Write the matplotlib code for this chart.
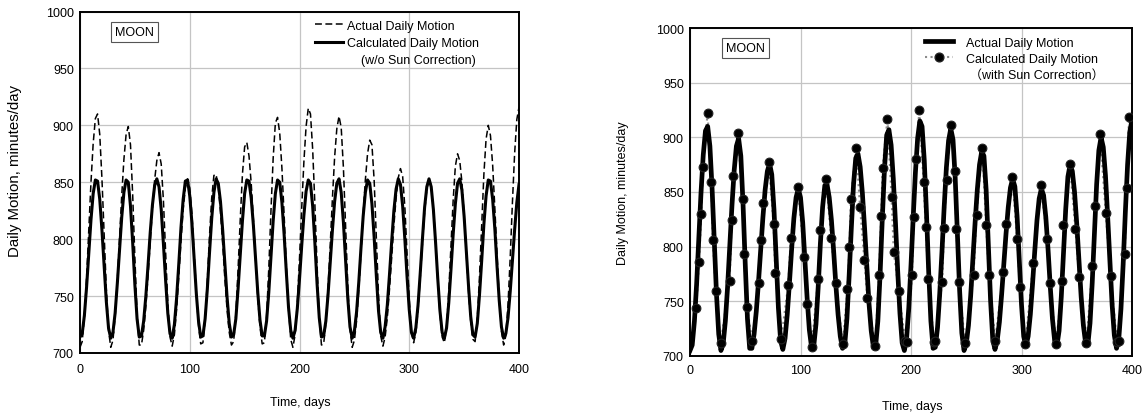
"""
Moon daily motion: actual vs calculated (without / with Sun correction)
"""

import numpy as np
import matplotlib; matplotlib.use("Agg")
import matplotlib.pyplot as plt
from matplotlib.lines import Line2D

plt.rcParams["font.family"] = ["Liberation Sans", "Noto Sans CJK JP", "DejaVu Sans"]

# time grid (days) for the two continuous curves
DAYS = np.arange(0, 401, 2)

# actual daily motion, minutes/day (read every 2 days)
ACTUAL = [
    705, 710, 732, 766, 808, 850, 884, 906,
    910, 892, 853, 804, 756, 720, 705,
    711, 732, 763, 800, 838, 870, 892, 899,
    883, 839, 784, 734, 707,
    707, 720, 741, 768, 798, 827, 852, 869, 876,
    866, 834, 789, 744, 714,
    706, 716, 738, 767, 798, 826, 845, 853,
    845, 822, 788, 753, 724, 708,
    709, 729, 763, 803, 836, 856,
    857, 845, 824, 796, 765, 738, 718, 707,
    710, 734, 773, 817, 857, 881,
    885, 873, 849, 817, 782, 748, 723, 708,
    709, 732, 774, 825, 871, 902,
    907, 893, 862, 821, 777, 739, 712,
    705, 716, 744, 783, 827, 868, 899, 915,
    910, 879, 831, 777, 732, 707,
    708, 726, 757, 795, 836, 872, 897, 908,
    898, 863, 812, 760, 721, 705,
    711, 728, 755, 788, 822, 852, 875, 887,
    883, 852, 802, 751, 715,
    706, 714, 731, 756, 784, 812, 836, 854, 862,
    855, 828, 788, 747, 718,
    709, 718, 738, 766, 796, 824, 844, 853,
    847, 827, 798, 764, 734, 714,
    709, 723, 754, 794, 834, 864, 875,
    869, 850, 821, 787, 754, 728, 712,
    710, 730, 767, 813, 857, 888, 900,
    891, 865, 827, 786, 747, 719, 707,
    715, 743, 784, 832, 875, 905, 916,
]

# calculated daily motion without Sun correction
CALC_NO_SUN = [
    714, 717, 733, 758, 788, 817, 840, 852,
    851, 835, 808, 776, 745, 722, 713,
    718, 735, 761, 790, 819, 841, 852,
    850, 829, 797, 760, 730, 714,
    715, 728, 750, 777, 806, 830, 847, 853,
    846, 826, 796, 764, 735, 717,
    713, 725, 748, 778, 810, 835, 851,
    852, 838, 814, 783, 752, 728, 714,
    715, 730, 756, 788, 818, 841, 853,
    849, 833, 808, 778, 749, 726, 714,
    716, 730, 756, 786, 816, 840, 852,
    851, 836, 812, 782, 753, 729, 715,
    715, 728, 753, 785, 816, 840, 852,
    850, 832, 804, 771, 740, 720,
    713, 720, 739, 765, 794, 821, 842, 852,
    849, 829, 797, 761, 731, 714,
    715, 728, 751, 779, 808, 833, 849,
    853, 841, 815, 781, 748, 723, 713,
    719, 736, 762, 792, 820, 841, 852,
    849, 831, 802, 768, 737, 718,
    713, 723, 742, 769, 798, 825, 844, 853,
    848, 829, 800, 767, 738, 718,
    713, 722, 742, 770, 800, 828, 846,
    853, 846, 826, 797, 765, 737, 718,
    713, 722, 744, 773, 804, 831, 849,
    853, 843, 820, 790, 759, 732, 716,
    714, 726, 751, 781, 813, 838, 852,
    851, 835, 809, 776, 746, 723, 713,
    717, 731, 754, 781, 808, 832, 848,
]

# calculated daily motion with Sun correction (marker points)
SUN_T = [
    5.7, 8.1, 10.3, 11.6, 15.9, 19.3, 20.6, 23.4, 27.8,
    35.9, 37.7, 39.2, 43.1, 47.6, 48.8, 51.5, 56.3,
    62.3, 64.1, 66.5, 71.3, 75.6, 77.2, 82.6,
    88.9, 91.2, 97.6, 103.3, 106.0, 110.0,
    115.9, 118.0, 123.0, 127.8, 131.7, 138.3,
    142.5, 144.3, 145.6, 150.3, 153.9, 157.8, 160.5, 167.7,
    171.0, 173.0, 174.3, 178.7, 182.4, 184.4, 189.0, 194.6, 196.7,
    200.9, 202.4, 204.8, 207.5, 211.4, 213.3, 215.7, 220.8, 222.0,
    228.3, 229.8, 232.2, 235.8, 239.5, 241.0, 243.4, 248.8,
    256.6, 259.3, 264.5, 268.0, 270.5, 276.2,
    283.7, 285.8, 291.6, 296.1, 298.5, 303.6,
    310.5, 317.2, 323.5, 325.9, 331.3,
    337.1, 338.0, 343.7, 348.8, 352.1, 358.7,
    364.2, 366.9, 371.1, 376.2, 380.7, 386.4, 388.2,
    393.4, 395.2, 397.3,
]
SUN_V = [
    744, 786, 830, 873, 922, 859, 806, 759, 712,
    769, 824, 865, 904, 844, 793, 745, 714,
    767, 806, 840, 877, 821, 776, 716,
    765, 808, 855, 791, 748, 708,
    770, 815, 862, 808, 767, 711,
    761, 800, 844, 890, 836, 788, 753, 709,
    774, 828, 872, 917, 845, 795, 759, 714, 713,
    774, 827, 880, 925, 859, 818, 770, 713, 714,
    768, 817, 861, 911, 869, 816, 768, 712,
    774, 829, 890, 820, 774, 714,
    777, 821, 864, 807, 763, 711,
    785, 856, 807, 767, 711,
    769, 820, 876, 816, 772, 712,
    782, 837, 903, 831, 773, 713, 714,
    793, 854, 919,
]

X_TICKS = [0, 100, 200, 300, 400]
Y_TICKS = [700, 750, 800, 850, 900, 950, 1000]

W, H = 1145, 414


def style_axes(ax, xpad):
    ax.set_xlim(0, 400)
    ax.set_ylim(700, 1000)
    ax.set_xticks(X_TICKS)
    ax.set_yticks(Y_TICKS)
    ax.grid(color="#c4c4c4", lw=0.9)
    ax.set_axisbelow(True)
    ax.tick_params(axis="x", length=0, labelsize=9, pad=xpad)
    ax.tick_params(axis="y", length=0, labelsize=9, pad=4.5)
    for s in ax.spines.values():
        s.set_linewidth(1.4)
    ax.text(50, 982, "MOON", ha="center", va="center", fontsize=9,
            bbox=dict(boxstyle="square,pad=0.32", fc="white", ec="#555555", lw=0.8))


def plot_left(fig):
    ax = fig.add_axes([80 / W, 1 - 354 / H, 439 / W, 341.5 / H])
    ax.plot(DAYS, CALC_NO_SUN, color="black", lw=2.2, zorder=3)
    ax.plot(DAYS, ACTUAL, color="black", lw=1.1, dashes=(4.5, 2.3), zorder=4)
    style_axes(ax, xpad=7)

    handles = [Line2D([], [], color="black", lw=1.1, dashes=(4.5, 2.3)),
               Line2D([], [], color="black", lw=2.2),
               Line2D([], [], color="none")]
    labels = ["Actual Daily Motion", "Calculated Daily Motion",
              "    (w/o Sun Correction)"]
    ax.legend(handles, labels, loc="upper left", bbox_to_anchor=(0.535, 0.976),
              frameon=False, fontsize=9, handlelength=2.25, handletextpad=0.3,
              labelspacing=0.42, borderpad=0, borderaxespad=0)

    fig.text(15.5 / W, 1 - 171 / H, "Daily Motion, minutes/day", rotation=90,
             ha="center", va="center", fontsize=10.8)
    fig.text(300 / W, 1 - 403 / H, "Time, days", ha="center", va="center", fontsize=9)


def plot_right(fig):
    ax = fig.add_axes([690 / W, 1 - 357 / H, 442 / W, 328 / H])
    ax.plot(SUN_T, SUN_V, color="#8c8c8c", lw=1.5, ls=":", zorder=2)
    ax.plot(DAYS, ACTUAL, color="black", lw=3.4, zorder=3)
    ax.plot(SUN_T, SUN_V, ls="none", marker="o", ms=6.3, mfc="black",
            mec="#222222", mew=0.8, zorder=4)
    style_axes(ax, xpad=6)

    handles = [Line2D([], [], color="black", lw=3.4),
               Line2D([], [], color="#8c8c8c", lw=1.5, ls=":", marker="o",
                      ms=6.3, mfc="black", mec="#222222"),
               Line2D([], [], color="none")]
    labels = ["Actual Daily Motion", "Calculated Daily Motion",
              " （with Sun Correction）"]
    ax.legend(handles, labels, loc="upper left", bbox_to_anchor=(0.532, 0.974),
              frameon=False, fontsize=9, handlelength=2.25, handletextpad=1.0,
              labelspacing=0.33, borderpad=0, borderaxespad=0)

    fig.text(623 / W, 1 - 193 / H, "Daily Motion, minutes/day", rotation=90,
             ha="center", va="center", fontsize=9)
    fig.text(912 / W, 1 - 407 / H, "Time, days", ha="center", va="center", fontsize=9)


def main():
    fig = plt.figure(figsize=(W / 100, H / 100), dpi=100)
    plot_left(fig)
    plot_right(fig)
    fig.savefig("out.png", dpi=100)
    plt.close(fig)


if __name__ == "__main__":
    main()
